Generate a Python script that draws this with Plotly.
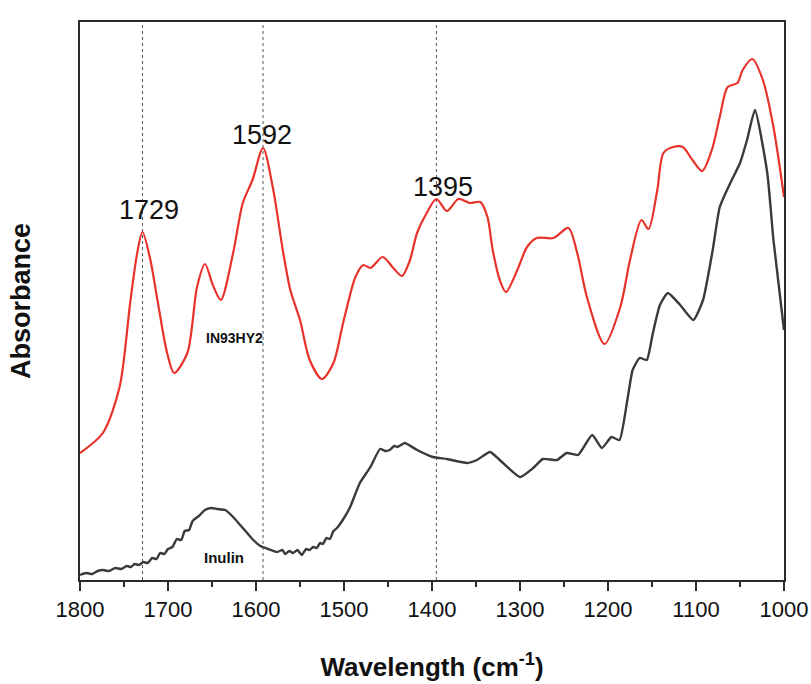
import plotly.graph_objects as go

# FTIR spectra (wavenumber in cm-1, absorbance in arbitrary units, offset for display)
wn_in93hy2 = [1800, 1774, 1755, 1743, 1735, 1729, 1720, 1712, 1701, 1693, 1678, 1667,
              1658, 1649, 1640, 1626, 1615, 1604, 1592, 1581, 1569, 1561, 1550, 1539,
              1525, 1512, 1501, 1487, 1478, 1470, 1456, 1444, 1434, 1425, 1417, 1406,
              1395, 1383, 1370, 1357, 1345, 1337, 1331, 1323, 1316, 1303, 1292, 1281,
              1262, 1245, 1235, 1224, 1204, 1186, 1175, 1162, 1154, 1144, 1137, 1126,
              1115, 1104, 1093, 1082, 1073, 1064, 1053, 1047, 1036, 1024, 1012, 1000]
abs_in93hy2 = [1.27, 1.47, 1.93, 2.77, 3.27, 3.48, 3.20, 2.80, 2.27, 2.07, 2.27, 2.93,
               3.16, 2.95, 2.80, 3.27, 3.77, 4.00, 4.32, 3.93, 3.27, 2.90, 2.60, 2.20,
               2.01, 2.17, 2.57, 3.03, 3.15, 3.12, 3.23, 3.12, 3.04, 3.20, 3.47, 3.67,
               3.81, 3.69, 3.81, 3.77, 3.78, 3.63, 3.30, 3.00, 2.88, 3.10, 3.33, 3.42,
               3.42, 3.52, 3.27, 2.83, 2.36, 2.73, 3.20, 3.60, 3.51, 3.90, 4.27, 4.33,
               4.33, 4.20, 4.09, 4.30, 4.63, 4.93, 4.97, 5.10, 5.21, 5.00, 4.53, 3.83]

wn_inulin = [1800, 1793, 1786, 1780, 1774, 1767, 1760, 1753, 1747, 1742, 1738, 1733,
             1728, 1723, 1718, 1713, 1709, 1704, 1700, 1695, 1690, 1685, 1681, 1676,
             1672, 1665, 1658, 1651, 1644, 1635, 1626, 1618, 1610, 1603, 1595, 1586,
             1576, 1570, 1567, 1562, 1558, 1553, 1548, 1543, 1539, 1535, 1531, 1527,
             1524, 1520, 1516, 1512, 1508, 1500, 1493, 1482, 1470, 1459, 1453, 1448,
             1443, 1439, 1431, 1417, 1399, 1383, 1360, 1349, 1334, 1323, 1300, 1285,
             1274, 1258, 1247, 1234, 1218, 1207, 1196, 1187, 1178, 1172, 1164, 1156,
             1149, 1141, 1132, 1118, 1103, 1092, 1081, 1073, 1061, 1050, 1042, 1033,
             1019, 1012, 1000]
abs_inulin = [0.05, 0.07, 0.06, 0.09, 0.10, 0.09, 0.12, 0.11, 0.14, 0.13, 0.16, 0.15,
              0.18, 0.17, 0.22, 0.21, 0.27, 0.26, 0.31, 0.33, 0.41, 0.40, 0.49, 0.50,
              0.59, 0.64, 0.70, 0.72, 0.71, 0.70, 0.63, 0.55, 0.47, 0.40, 0.34, 0.31,
              0.28, 0.30, 0.26, 0.29, 0.27, 0.30, 0.25, 0.31, 0.30, 0.33, 0.32, 0.37,
              0.36, 0.42, 0.41, 0.49, 0.52, 0.62, 0.73, 0.97, 1.13, 1.31, 1.29, 1.30,
              1.34, 1.33, 1.37, 1.30, 1.23, 1.21, 1.17, 1.20, 1.28, 1.20, 1.03, 1.12,
              1.21, 1.20, 1.27, 1.25, 1.45, 1.32, 1.43, 1.40, 1.80, 2.10, 2.22, 2.20,
              2.47, 2.75, 2.87, 2.75, 2.60, 2.80, 3.30, 3.73, 3.97, 4.17, 4.40, 4.70,
              4.07, 3.40, 2.50]

marked_peaks = [1729, 1592, 1395]
peak_labels = ["1729", "1592", "1395"]
peak_label_pos = [(1721.6, 3.70), (1593, 4.45), (1387.5, 3.93)]

font_family = "Arial, Liberation Sans, sans-serif"
axis_color = "#2b2b2b"

fig = go.Figure()

fig.add_trace(go.Scatter(
    x=wn_in93hy2, y=abs_in93hy2, mode="lines", name="IN93HY2",
    line=dict(color="#e8322c", width=2.2, shape="spline", smoothing=0.8),
))
fig.add_trace(go.Scatter(
    x=wn_inulin, y=abs_inulin, mode="lines", name="Inulin",
    line=dict(color="#3a3a3a", width=2.4, shape="spline", smoothing=0.5),
))

# dotted guide lines at the marked bands
for wn in marked_peaks:
    fig.add_shape(type="line", x0=wn, x1=wn, y0=0, y1=1, xref="x", yref="paper",
                  line=dict(color="#555555", width=1, dash="dot"), layer="below")

for text, (xp, yp) in zip(peak_labels, peak_label_pos):
    fig.add_annotation(x=xp, y=yp, text=text, showarrow=False,
                       font=dict(family=font_family, size=27, color="#111111"))

fig.add_annotation(x=1624, y=2.42, text="<b>IN93HY2</b>", showarrow=False,
                   font=dict(family=font_family, size=14, color="#111111"))
fig.add_annotation(x=1636, y=0.23, text="<b>Inulin</b>", showarrow=False,
                   font=dict(family=font_family, size=15, color="#111111"))

fig.update_layout(
    width=811, height=684,
    margin=dict(l=80, r=27, t=22, b=104),
    paper_bgcolor="white", plot_bgcolor="white",
    showlegend=False,
    font=dict(family=font_family, color="#111111"),
)

fig.update_xaxes(
    range=[1800, 1000], autorange=False, automargin=False,
    tickmode="array", tickvals=list(range(1800, 999, -100)),
    ticks="outside", ticklen=9, tickwidth=2, tickcolor=axis_color,
    minor=dict(tickmode="array", tickvals=list(range(1750, 1000, -100)),
               ticks="outside", ticklen=5, tickwidth=2, tickcolor=axis_color),
    tickfont=dict(size=22, family=font_family, color="#111111"),
    showline=True, linecolor=axis_color, linewidth=2, mirror=True,
    showgrid=False, zeroline=False,
    title=dict(text="<b>Wavelength (cm<sup>-1</sup>)</b>",
               font=dict(size=26, family=font_family, color="#111111"), standoff=36),
)
fig.update_yaxes(
    range=[0, 5.58], autorange=False,
    showticklabels=False, ticks="",
    showline=True, linecolor=axis_color, linewidth=2, mirror=True,
    showgrid=False, zeroline=False,
    title=dict(text="<b>Absorbance</b>",
               font=dict(size=27, family=font_family, color="#111111"), standoff=40),
)

fig.write_html("out.html")
